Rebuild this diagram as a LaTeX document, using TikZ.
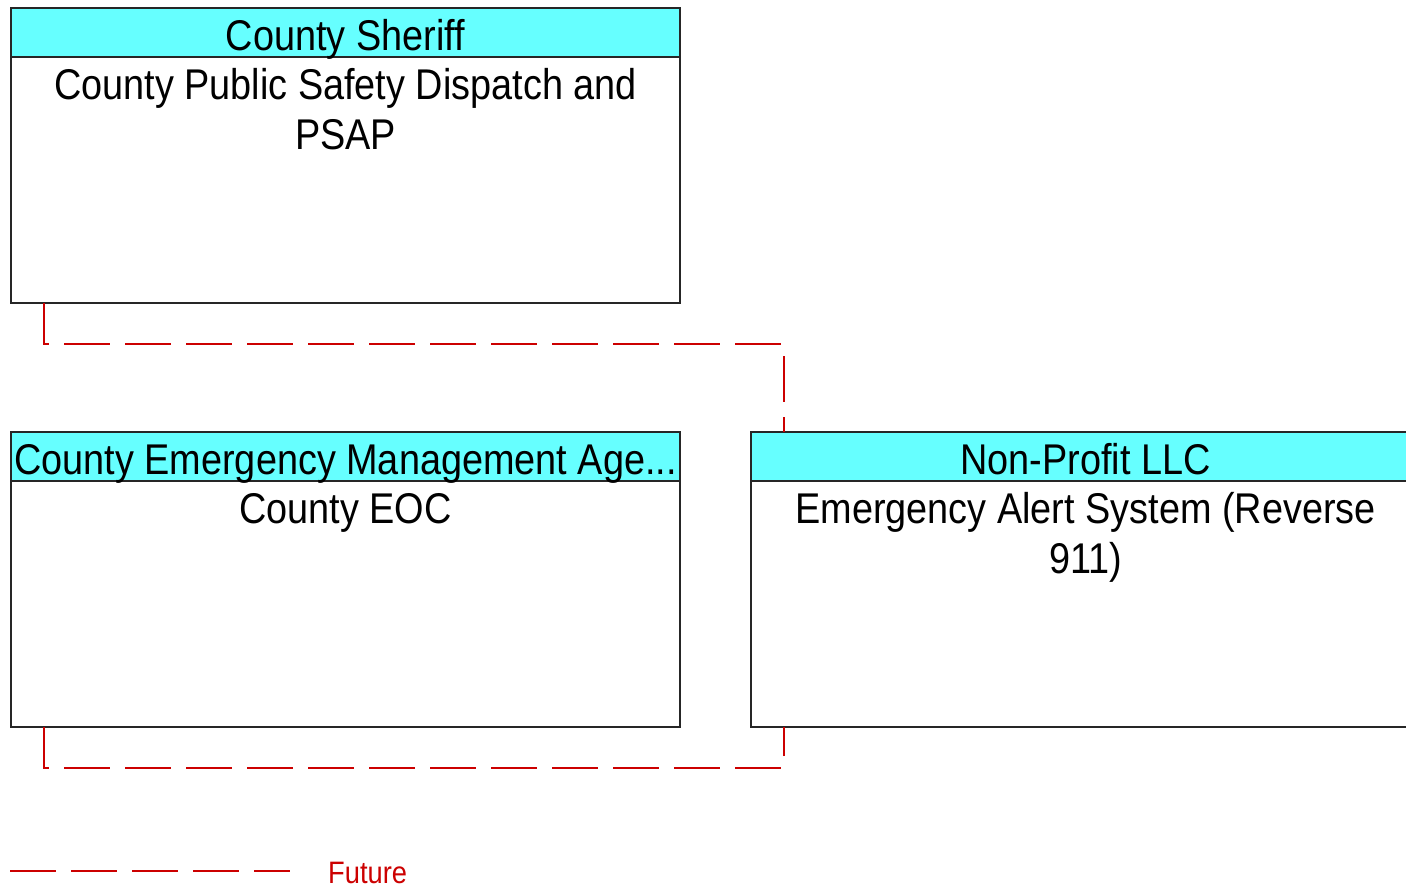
\documentclass[tikz,border=0pt]{standalone}
\usepackage{fontspec}
\setmainfont{Liberation Sans}[FakeStretch=0.88]
\definecolor{hdrcyan}{RGB}{102,255,255}
\definecolor{futred}{RGB}{204,0,0}
\begin{document}
\begin{tikzpicture}[x=1pt,y=-1pt,
  box/.style={draw=black!85, line width=1.3pt, fill=white, inner sep=0, outer sep=0,
    minimum width=669pt, minimum height=295pt, anchor=north west},
  hdr/.style={draw=black!85, line width=1.3pt, fill=hdrcyan, inner sep=0, outer sep=0,
    minimum width=669pt, minimum height=49pt, anchor=north west},
  txt/.style={inner sep=0, anchor=base, font=\fontsize{43}{50}\selectfont},
  flow/.style={draw=futred, line width=1.3pt, dash pattern=on 46pt off 15pt}]
\useasboundingbox (0,0) rectangle (1406,887);
\clip (0,0) rectangle (1406,887);
% County Sheriff
\node[box] (sheriff) at (11,8) {};
\node[hdr] (sheriffH) at (11,8) {};
\node[txt] (sheriffHT) at (345.5,50) {County Sheriff};
\node[txt] (sheriffT1) at (345.5,99) {County Public Safety Dispatch and};
\node[txt] (sheriffT2) at (345.5,149) {PSAP};
% County EOC
\node[box] (eoc) at (11,432) {};
\node[hdr] (eocH) at (11,432) {};
\node[txt] (eocHT) at (345.5,474) {County Emergency Management Age...};
\node[txt] (eocT1) at (345.5,523) {County EOC};
% Emergency Alert System
\node[box] (eas) at (751,432) {};
\node[hdr] (easH) at (751,432) {};
\node[txt] (easHT) at (1085.5,474) {Non-Profit LLC};
\node[txt] (easT1) at (1085.5,523) {Emergency Alert System (Reverse};
\node[txt] (easT2) at (1085.5,573) {911)};
% connectors
\draw[flow] ([xshift=33pt]sheriff.south west) -- ++(0,41) -| ([xshift=33pt]eas.north west);
\draw[flow] ([xshift=33pt]eoc.south west) -- ++(0,41) -| ([xshift=33pt]eas.south west);
% legend
\coordinate (legA) at (10,871);
\coordinate (legB) at (290,871);
\draw[flow] (legA) -- (legB);
\node[inner sep=0, anchor=base west, text=futred, font=\fontsize{31}{36}\selectfont] (legT) at (328,883) {Future};
\end{tikzpicture}
\end{document}
